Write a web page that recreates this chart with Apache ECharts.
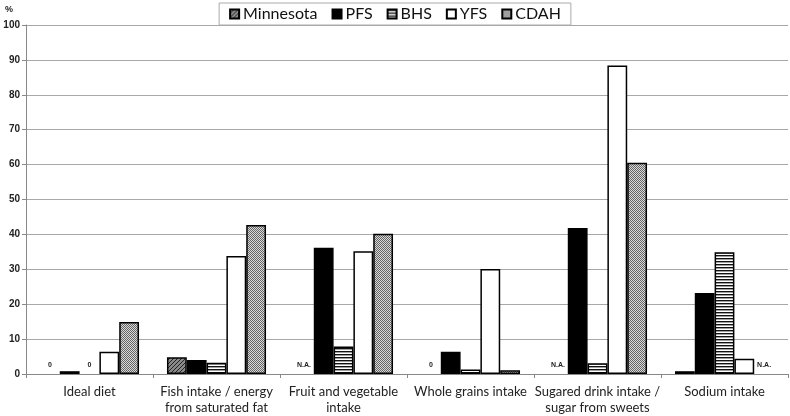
<!DOCTYPE html>
<html><head><meta charset="utf-8">
<script src="https://cdn.jsdelivr.net/npm/echarts@6/dist/echarts.min.js"></script>
<style>html,body{margin:0;padding:0;background:#fff}#c{width:790px;height:416px}</style>
</head><body><div id="c"></div>
<script>
const categories = ['Ideal diet', 'Fish intake / energy\nfrom saturated fat', 'Fruit and vegetable\nintake', 'Whole grains intake', 'Sugared drink intake /\nsugar from sweets', 'Sodium intake'];
const seriesNames = ['Minnesota', 'PFS', 'BHS', 'YFS', 'CDAH'];
// null = shown as a note instead of a bar
const minnesota = [null, 4.8, null, null, null, 0.8];
const pfs = [0.8, 4.0, 36.2, 6.4, 41.8, 23.2];
const bhs = [null, 3.2, 7.9, 1.3, 3.1, 34.9];
const yfs = [6.4, 33.8, 35.2, 30.1, 88.4, 4.4];
const cdah = [14.9, 42.7, 40.2, 1.1, 60.5, null];
const minnesotaNote = ['0', '', 'N.A.', '0', 'N.A.', ''];
const pfsNote = ['', '', '', '', '', ''];
const bhsNote = ['0', '', '', '', '', ''];
const yfsNote = ['', '', '', '', '', ''];
const cdahNote = ['', '', '', '', '', 'N.A.'];
const yTicks = [0, 10, 20, 30, 40, 50, 60, 70, 80, 90, 100];

function pat(w, h, draw) {
  const c = document.createElement('canvas'); c.width = w; c.height = h;
  const g = c.getContext('2d'); draw(g);
  return { image: c, repeat: 'repeat' };
}
const diag = pat(4, 4, g => {
  g.fillStyle = '#8a8a8a'; g.fillRect(0, 0, 4, 4);
  g.fillStyle = '#222';
  for (let i = 0; i < 4; i++) { g.fillRect(i, 3 - i, 1, 1); }
});
const stripes = pat(3, 3, g => {
  g.fillStyle = '#fff'; g.fillRect(0, 0, 3, 3);
  g.fillStyle = '#111'; g.fillRect(0, 0, 3, 1.4);
});
const dots = pat(2, 2, g => {
  g.fillStyle = '#d8d8d8'; g.fillRect(0, 0, 2, 2);
  g.fillStyle = '#666'; g.fillRect(0, 0, 1, 1); g.fillRect(1, 1, 1, 1);
});
const fills = [diag, '#000', stripes, '#fff', dots];
const values = [minnesota, pfs, bhs, yfs, cdah];
const notes = [minnesotaNote, pfsNote, bhsNote, yfsNote, cdahNote];

const series = seriesNames.map((n, si) => ({
  name: n, type: 'bar', barGap: '0%', barCategoryGap: '22%',
  itemStyle: { color: fills[si], borderColor: '#000', borderWidth: 1.5 },
  emphasis: { disabled: true },
  data: values[si].map((v, i) => {
    const note = notes[si][i];
    if (v === null && note) {
      return {
        value: 0,
        itemStyle: { color: 'rgba(0,0,0,0)', borderWidth: 0 },
        label: { show: true, position: 'top', distance: 5, formatter: note,
          fontFamily: 'Arial', fontSize: 7, fontWeight: 'bold', color: '#222' }
      };
    }
    return v;
  })
}));

const chart = echarts.init(document.getElementById('c'), null, { renderer: 'canvas' });
chart.setOption({
  animation: false,
  textStyle: { fontFamily: 'Lato' },
  title: { text: '%', left: 0, top: 0, textStyle: { fontSize: 9, fontWeight: 'bold', color: '#222', fontFamily: 'Arial' } },
  legend: {
    data: seriesNames, top: 3, left: 'center',
    backgroundColor: '#fff', borderColor: '#aaa', borderWidth: 1,
    padding: [3, 10, 3, 10], itemGap: 14, itemWidth: 9, itemHeight: 9, icon: 'rect',
    textStyle: { fontSize: 16, color: '#111', fontFamily: 'Lato', padding: [0, 0, 0, -1] }
  },
  grid: { left: 26, right: 2, top: 25, bottom: 40, containLabel: false },
  xAxis: {
    type: 'category', data: categories,
    axisLine: { lineStyle: { color: '#888', width: 1 } },
    axisTick: { show: true, alignWithLabel: false, length: 4, lineStyle: { color: '#888' } },
    axisLabel: { fontSize: 13, color: '#222', margin: 10, lineHeight: 16, interval: 0 }
  },
  yAxis: {
    type: 'value', min: 0, max: 100, interval: 10,
    axisLine: { show: true, lineStyle: { color: '#888' } },
    axisTick: { show: true, length: 4, lineStyle: { color: '#888' } },
    axisLabel: { fontSize: 10, color: '#222', fontWeight: 'bold', fontFamily: 'Arial', margin: 6,
      formatter: v => yTicks.includes(v) ? String(v) : '' },
    splitLine: { lineStyle: { color: '#a8a8a8', width: 1.2 } }
  },
  series: series
});
</script></body></html>
